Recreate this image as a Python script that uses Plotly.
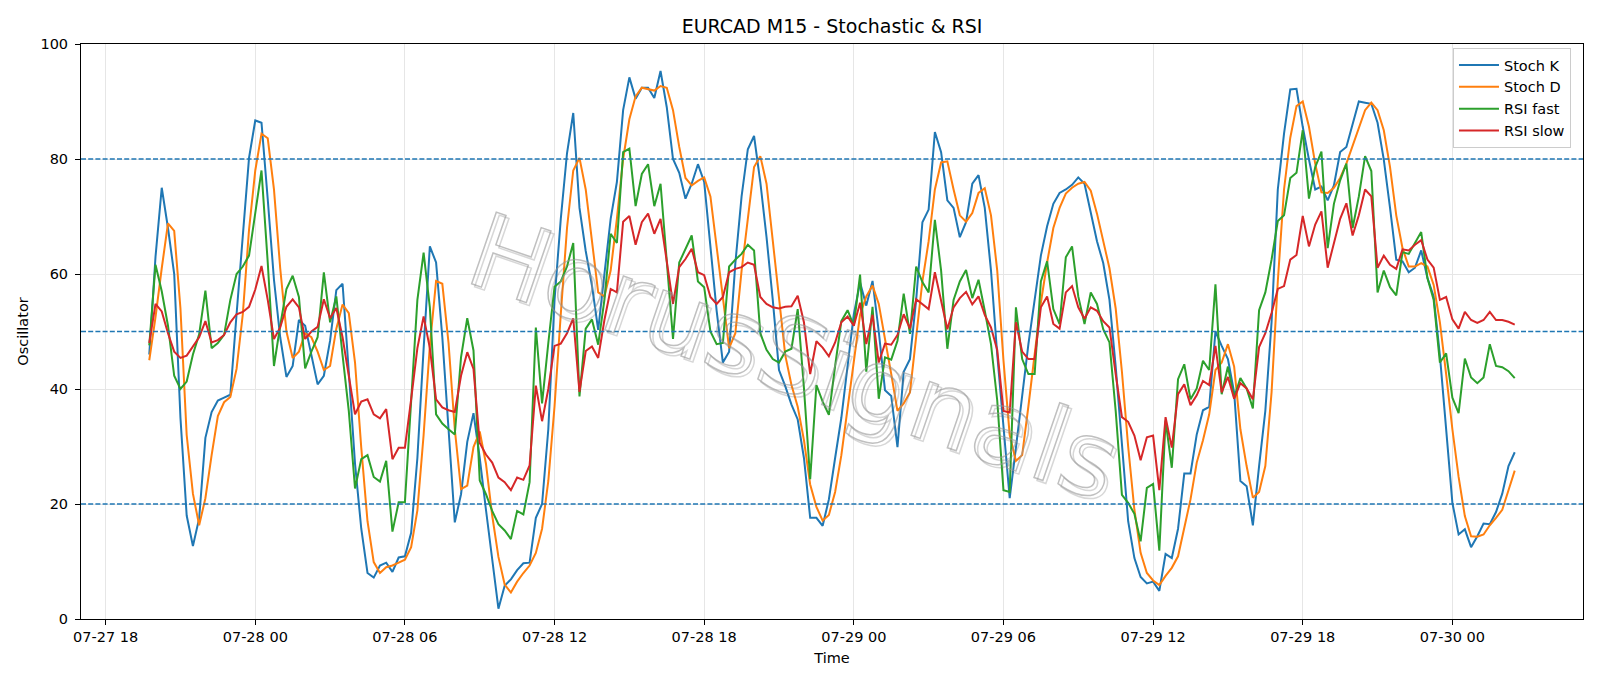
import pandas as pd
import plotly.graph_objects as go

# ---------------- data ----------------
START = "2025-07-27 19:45"   # first M15 bar
FREQ = "15min"

stoch_k = [
    46, 63, 75, 68, 60, 35, 18, 12.7, 17.5, 31.5,
    36, 38, 38.5, 39, 53, 66, 80.2, 86.7, 86.3, 73,
    59, 49, 42.1, 44, 52, 51, 46, 40.8, 42.3, 48.4,
    57.2, 58.3, 43, 27, 15.7, 8, 7.2, 9.3, 9.8, 8.2,
    10.7, 10.9, 15, 28, 47, 64.8, 62, 49, 33, 16.8,
    21.7, 30.8, 35.8, 28, 19, 10.5, 1.8, 5.8, 6.9, 8.5,
    9.7, 9.8, 17.6, 20, 33, 55.5, 69.6, 81, 88, 71.5,
    64, 58, 50.3, 60, 69.6, 76, 88.5, 94.2, 90.5, 92.4,
    92.4, 90.6, 95.3, 89, 80, 77.6, 73.1, 75.7, 79.1, 76,
    64.5, 53.6, 44.6, 46.5, 61.9, 73.5, 81.7, 84, 76, 66.4,
    55.5, 43.3, 40.5, 37.3, 34.7, 28, 17.6, 17.6, 16.2, 20.8,
    28, 35, 44, 53, 58.5, 54.5, 58.8, 50, 39.8, 38.8,
    29.9, 43, 45.2, 55.5, 69, 71.2, 84.7, 81.2, 72.8, 71.5,
    66.4, 69, 75.7, 77.2, 71.5, 60.6, 46, 33, 21, 29.8,
    38.8, 47.8, 55.5, 63.2, 68.3, 72.2, 74.1, 74.7, 75.5, 76.8,
    75.7, 70.9, 65.7, 61.9, 55.5, 43.9, 29.8, 17, 10.6, 7.3,
    6.2, 6.5, 4.9, 11.3, 10.6, 15.7, 25.3, 25.3, 32.1, 36.3,
    36.9, 50, 47.5, 45.2, 39.4, 24, 23.1, 16.3, 26.6, 36.2,
    51.6, 74.7, 84.4, 92.1, 92.2, 85.6, 79.9, 74.7, 75.2, 72.8,
    75.4, 81.2, 82.1, 86, 90, 89.8, 89.6, 86.3, 79.9, 71.5,
    62.5, 62.2, 60.3, 61.1, 64.1, 59.3, 56.1, 45.8, 33, 20.2,
    14.7, 15.6, 12.5, 14.4, 16.6, 16.5, 18.6, 21.8, 26.6, 29,
]

stoch_d = [
    45, 52.5, 61, 68.8, 67.5, 54, 32, 21.8, 16.3, 21,
    28.5, 35.3, 37.7, 38.6, 43.5, 53, 67.7, 78, 84.4, 83.6,
    74.7, 61, 50, 45.4, 46.5, 49.7, 49, 46.5, 43.3, 44,
    50.5, 54.7, 53.2, 44.6, 29.8, 17, 9.9, 8, 9, 9.3,
    9.8, 10.3, 12.5, 18.9, 32, 47.5, 58.8, 58.3, 48, 33,
    22.6, 23.2, 29.9, 32.6, 27, 18, 10.8, 6, 4.6, 6.5,
    8, 9.3, 11.5, 15.7, 24, 37, 53, 68, 78, 80.2,
    74.7, 65.7, 56.8, 56.1, 60.6, 69.6, 80, 86.9, 90.9, 92.4,
    92.2, 91.9, 92.7, 92.4, 88.5, 82.1, 76.7, 75.4, 76.2, 76.8,
    73.5, 64.5, 55.5, 47.1, 49.7, 60.6, 69.6, 78.6, 80.5, 75.7,
    65.8, 55.5, 45.9, 40.7, 36.9, 31.1, 23.4, 19.5, 17.1, 18.1,
    22.1, 28.5, 36.9, 45.2, 52.9, 56.1, 58, 54.8, 49, 42.6,
    36.2, 37.5, 39.4, 49, 58.7, 65.7, 74.7, 79.4, 79.6, 74.7,
    70.2, 69.1, 70.6, 74.1, 74.9, 70.2, 60.6, 45, 32, 27.5,
    28.5, 37, 46, 55, 62, 68, 71.5, 74, 75, 75.7,
    76, 74.5, 70.5, 66, 61, 54, 43, 30, 19, 11.5,
    8, 6.7, 5.9, 7.5, 8.9, 10.9, 15.7, 20.8, 27.2, 31.1,
    35.6, 43.3, 44.6, 47.8, 43.9, 33, 26.6, 21.1, 22.1, 26.6,
    39.4, 58.7, 74.7, 83.7, 89.2, 90, 85.6, 79.2, 74.2, 74.1,
    75, 76.7, 79.2, 82.4, 85.6, 88.5, 89.8, 88.5, 85, 78.6,
    70.2, 64.5, 61.3, 61.3, 61.9, 61.3, 58.1, 51.6, 42.6, 33,
    24.7, 17.9, 14.4, 14.3, 14.7, 16.3, 17.6, 19, 22.4, 25.8,
]

rsi_fast = [
    47.6, 61.6, 57, 51, 42.3, 40, 41.3, 46, 49.5, 57.1,
    47.1, 48, 49.4, 55.5, 60, 61.3, 63.2, 70.5, 78, 62,
    44, 51, 57.4, 59.7, 56, 43.6, 46.5, 49, 60.3, 51.6,
    56.1, 45.9, 36.2, 22.7, 27.8, 28.5, 24.7, 23.9, 27.5, 15.2,
    20.3, 20.3, 38.8, 55.5, 63.7, 54.2, 35.6, 34, 33, 32.1,
    45.5, 52.3, 46.7, 24.1, 21.7, 18.8, 16.5, 15.4, 13.9, 18.8,
    18.2, 23.8, 50.7, 37.5, 48, 57.8, 58.7, 61.3, 65.4, 38.7,
    50.5, 52.1, 47.7, 55.5, 67, 65.4, 81.2, 81.8, 71.8, 77.4,
    79.1, 71.8, 75.7, 62.5, 48.7, 62, 64.5, 66.7, 58.7, 57.7,
    50, 47.8, 48, 61.3, 62.5, 63.5, 65.1, 64.1, 49.7, 46.8,
    45.2, 44.6, 46.5, 47, 53.9, 40.2, 24.3, 40.7, 37.8, 35.5,
    44, 51.8, 53.7, 51, 59.9, 43, 54.3, 38.3, 45.5, 45.1,
    48.4, 56.6, 49.6, 61.3, 58.6, 56.8, 69.4, 60.6, 47, 55.5,
    58.7, 60.7, 55.8, 59, 53.6, 47.8, 38, 22.4, 22.1, 54.2,
    45.2, 42.6, 42.6, 58.7, 62.2, 53.9, 51.3, 62.9, 64.8, 56.1,
    51.3, 56.8, 54.8, 50.4, 48.1, 36.2, 21.6, 20.2, 18.3, 13.5,
    22.8, 23.5, 11.9, 34.5, 26.3, 41.7, 44.3, 38.2, 40.1, 44.9,
    43.3, 58.2, 39.1, 43.9, 38.5, 41.9, 40.1, 36.6, 53.7, 56.8,
    62.5, 69.2, 70.2, 76.7, 77.6, 85, 73.1, 78.6, 81.3, 64.5,
    72.2, 76.3, 79.2, 68, 73.5, 80.5, 77.9, 56.8, 60.6, 57.7,
    56.3, 63.8, 63.5, 65.4, 67.3, 59.3, 55.5, 44.6, 46.2, 38.5,
    35.8, 45.3, 42, 41, 42, 47.8, 44, 43.8, 43.1, 41.9,
]

rsi_slow = [
    48, 54.8, 53.5, 49.7, 46.5, 45.4, 45.8, 47.5, 49, 51.8,
    48.1, 48.5, 49.4, 51.6, 53, 53.4, 54.3, 57.3, 61.4, 55.5,
    48.7, 50.7, 54.3, 55.6, 54.2, 48.7, 50, 50.8, 55.6, 52.3,
    54.1, 49, 42.6, 35.6, 37.8, 38.2, 35.6, 34.9, 36.5, 27.8,
    29.8, 29.8, 38.2, 47.1, 52.6, 47.1, 38.2, 36.8, 36.3, 36,
    42.3, 46.4, 43.5, 30.6, 28.6, 27.2, 24.6, 23.8, 22.4, 24.6,
    24.2, 26.7, 40.6, 34.4, 40, 47.5, 47.9, 49.7, 52.3, 39.5,
    46.6, 47.4, 45.4, 52, 57.4, 56.8, 69.1, 70.1, 65.1, 69,
    70.5, 67, 69.6, 62.5, 54.8, 61.2, 62.6, 64.4, 60.3, 59.8,
    56, 54.8, 56, 60.3, 60.9, 61.2, 62, 61.6, 56, 54.8,
    54.2, 54, 54.3, 54.4, 56.2, 51.6, 42.6, 48.3, 47.2, 45.7,
    48.1, 51.6, 52.6, 51, 55, 47.8, 52.9, 44.6, 47.9, 47.7,
    49.4, 53, 50.5, 55.6, 54.7, 53.9, 60.3, 55.5, 50.4, 54.2,
    55.8, 56.9, 54.7, 56.1, 52.9, 50.7, 46.8, 36.2, 35.9, 51.6,
    46.5, 45.2, 45.2, 54.2, 56.1, 51.3, 50.5, 56.8, 57.9, 54.2,
    52.2, 54.2, 53.6, 51.8, 50.7, 42.6, 35.1, 34.3, 31.9, 27.6,
    31.6, 31.9, 22.4, 35.1, 29.8, 39.1, 40.8, 37.2, 38.9, 41.4,
    40.7, 47.5, 39.4, 42.1, 38.3, 41, 40.1, 38.2, 47.3, 49.7,
    53.2, 57.4, 57.9, 62.5, 63.3, 70.1, 64.8, 68.6, 70.9, 61.1,
    65.4, 69.6, 72.3, 66.7, 70.2, 74.7, 73.5, 61.1, 63.2, 61.6,
    60.9, 64.3, 64.1, 65.1, 65.9, 62.5, 61.1, 55.5, 56, 52.1,
    50.5, 53.4, 52, 51.5, 52, 53.4, 52, 52, 51.7, 51.2,
]

series_names = ["Stoch K", "Stoch D", "RSI fast", "RSI slow"]
series_colors = ["#1f77b4", "#ff7f0e", "#2ca02c", "#d62728"]
level_lines = [80, 50, 20]
y_ticks = [0, 20, 40, 60, 80, 100]
WATERMARK = "HorusSignals"

times = pd.date_range(START, periods=len(stoch_k), freq=FREQ)

# ---------------- figure ----------------
FONT = "DejaVu Sans"
fig = go.Figure()
for name, vals, col in zip(series_names, [stoch_k, stoch_d, rsi_fast, rsi_slow], series_colors):
    fig.add_trace(go.Scatter(x=times, y=vals, mode="lines", name=name,
                             line=dict(color=col, width=2)))

for lv in level_lines:
    fig.add_hline(y=lv, line_color="#1f77b4", line_width=1.3,
                  line_dash="5px,2.2px", layer="above")

# watermark: soft offset "shadow" + light outline (outlined via post_script)
fig.add_annotation(text=WATERMARK, xref="paper", yref="paper",
                   x=0.475, y=0.455, xshift=3, yshift=-3, showarrow=False, textangle=19,
                   font=dict(family=FONT, size=104, color="rgba(110,110,110,0.28)"))
fig.add_annotation(text=WATERMARK, xref="paper", yref="paper",
                   x=0.475, y=0.455, showarrow=False, textangle=19,
                   font=dict(family=FONT, size=104, color="rgba(150,150,150,0.6)"))

fig.update_layout(
    width=1600, height=686,
    margin=dict(l=81, r=17, t=44, b=67),
    paper_bgcolor="white", plot_bgcolor="white",
    font=dict(family=FONT, size=14.5, color="black"),
    title=dict(text="EURCAD M15 - Stochastic & RSI", x=0.5, xref="paper",
               y=1 - 26 / 686, yref="container", yanchor="middle", xanchor="center",
               font=dict(family=FONT, size=19, color="black")),
    legend=dict(x=0.992, y=0.993, xanchor="right", yanchor="top",
                bgcolor="rgba(255,255,255,0.8)", bordercolor="#cccccc", borderwidth=1,
                font=dict(family=FONT, size=14.5, color="black"), itemwidth=40),
    showlegend=True,
)

fig.update_xaxes(
    range=["2025-07-27 17:00:45", "2025-07-30 05:14:15"],
    tick0="2025-07-27 18:00", dtick=6 * 3600 * 1000, tickformat="%m-%d %H",
    showgrid=True, gridcolor="#e6e6e6", gridwidth=1,
    showline=True, linecolor="black", linewidth=1, mirror=True,
    ticks="outside", ticklen=5, tickwidth=1, tickcolor="black",
    tickfont=dict(family=FONT, size=14.5, color="black"),
    title=dict(text="Time", font=dict(family=FONT, size=14.5, color="black"), standoff=8),
    zeroline=False,
)
fig.update_yaxes(
    range=[0, 100], tickvals=y_ticks,
    showgrid=True, gridcolor="#e6e6e6", gridwidth=1,
    showline=True, linecolor="black", linewidth=1, mirror=True,
    ticks="outside", ticklen=5, tickwidth=1, tickcolor="black", ticklabelstandoff=4,
    tickfont=dict(family=FONT, size=14.5, color="black"),
    title=dict(text="Oscillator", font=dict(family=FONT, size=14.5, color="black"), standoff=8),
    zeroline=False,
)

WM_JS = """
var gd = document.getElementById('{plot_id}');
function outlineWatermark(){
  gd.querySelectorAll('.annotation-text').forEach(function(t){
    if (!t.hasAttribute('data-wm')) {
      t.setAttribute('data-wm', (t.style.fill || 'gray') + '|' + (t.style.fillOpacity || '1'));
    }
    var p = t.getAttribute('data-wm').split('|');
    t.style.stroke = p[0];
    t.style.strokeOpacity = p[1];
    t.style.strokeWidth = '1.5px';
    t.style.fill = 'none';
  });
}
outlineWatermark();
setTimeout(outlineWatermark, 50);
if (gd.on) { gd.on('plotly_afterplot', outlineWatermark); }
"""

fig.write_html("out.html", post_script=WM_JS)
